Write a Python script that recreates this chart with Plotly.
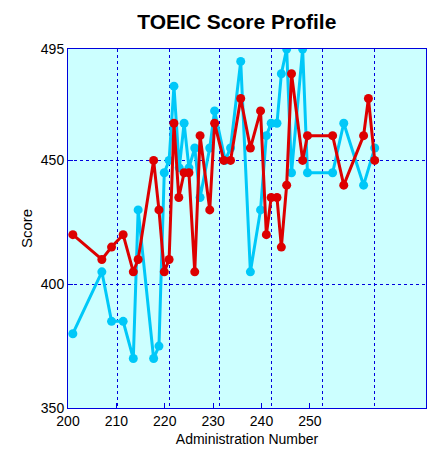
import plotly.graph_objects as go

cyan_x = [201, 207, 209, 211.4, 213.5, 214.5, 217.7, 218.8, 219.9, 220.9, 221.9, 223, 224, 225, 226.2, 227.3, 229.3, 230.3, 232.5, 233.6, 235.7, 237.7, 239.8, 241, 242, 243.2, 244.1, 245.2, 246.2, 248.5, 249.5, 254.7, 257, 261.1, 263.4]
cyan_y = [380, 405, 385, 385, 370, 430, 370, 375, 445, 450, 480, 447, 465, 447, 455, 435, 455, 470, 450, 455, 490, 405, 430, 460, 465, 465, 485, 495, 445, 495, 445, 445, 465, 440, 455]
red_x = [201, 207, 209, 211.4, 213.5, 214.5, 217.7, 218.8, 219.9, 220.9, 221.9, 222.9, 224, 225, 226.2, 227.3, 229.3, 230.3, 232.2, 233.6, 235.7, 237.7, 239.8, 241, 242, 243.2, 244.1, 245.2, 246.2, 248.5, 249.5, 254.7, 257, 261.1, 262.1, 263.4]
red_y = [420, 410, 415, 420, 405, 410, 450, 430, 405, 410, 465, 435, 445, 445, 405, 460, 430, 465, 450, 450, 475, 455, 470, 420, 435, 435, 415, 440, 485, 450, 460, 460, 440, 460, 475, 450]
x_ticks = [200, 210, 220, 230, 240, 250]
y_ticks = [350, 400, 450, 495]
x_grid = [210.2, 220.9, 231.4, 242, 252.7, 263.3]

fig = go.Figure()
fig.add_trace(go.Scatter(x=cyan_x, y=cyan_y, mode="lines+markers",
                         line=dict(color="#00C8F8", width=3), marker=dict(size=9, color="#00C8F8")))
fig.add_trace(go.Scatter(x=red_x, y=red_y, mode="lines+markers",
                         line=dict(color="#DD0000", width=3), marker=dict(size=9, color="#DD0000")))
fig.add_trace(go.Scatter(x=[None], y=[None], xaxis="x2", showlegend=False))

axcommon = dict(showline=True, linecolor="#0000DD", linewidth=1, mirror=True, zeroline=False,
                automargin=False,
                ticks="inside", tickcolor="#0000DD", ticklen=5, tickfont=dict(size=14, color="black"))
fig.update_layout(
    width=440, height=452, showlegend=False,
    margin=dict(l=60, r=22, t=41, b=52, autoexpand=False),
    paper_bgcolor="white", plot_bgcolor="#CCFFFF",
    font=dict(family="Liberation Sans, Arial, sans-serif", color="black"),
    title=dict(text="<b>TOEIC Score Profile</b>", x=0.52, xanchor="center", y=0.985, yanchor="top",
               font=dict(size=21), automargin=False),
    xaxis=dict(range=[200, 274], tickvals=x_ticks, showgrid=False,
               title=dict(text="Administration Number", font=dict(size=14), standoff=6), **axcommon),
    xaxis2=dict(range=[200, 274], overlaying="x", tickvals=x_grid, showticklabels=False,
                showgrid=True, gridcolor="#0000DD", griddash="dot", gridwidth=1, zeroline=False,
                showline=False, ticks=""),
    yaxis=dict(range=[350, 495], tickvals=y_ticks, showgrid=True, gridcolor="#0000DD",
               griddash="dot", gridwidth=1,
               title=dict(text="Score", font=dict(size=15), standoff=4), **axcommon),
)
fig.write_html("out.html")
